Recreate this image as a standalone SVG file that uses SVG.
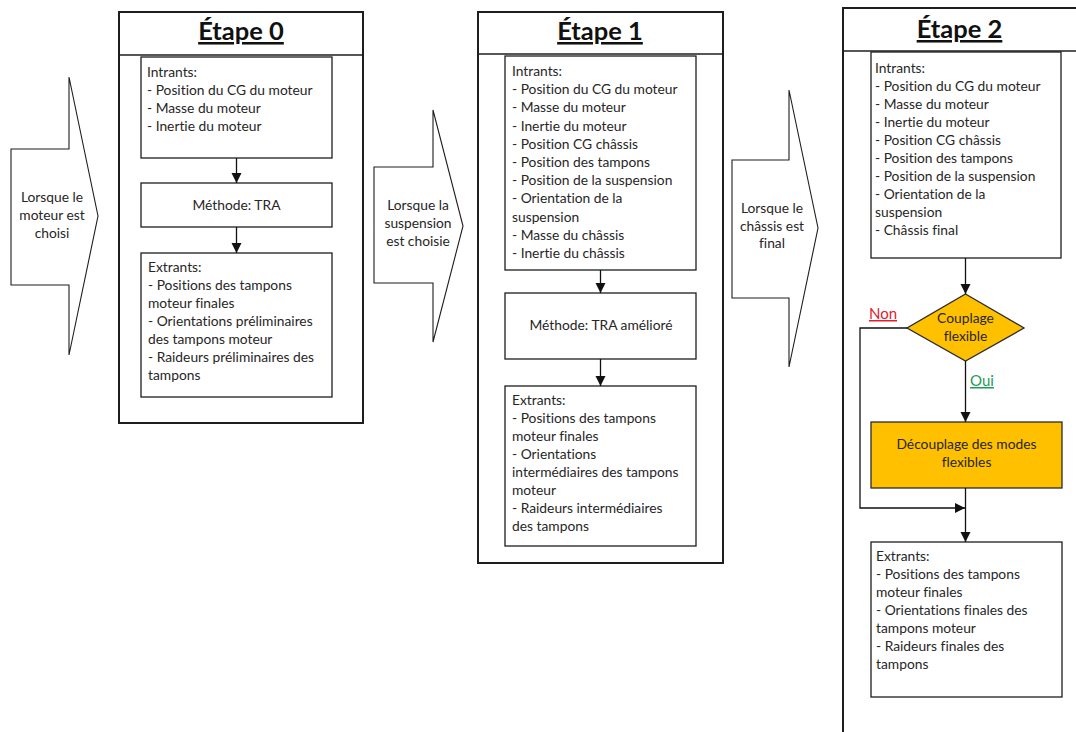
<svg xmlns="http://www.w3.org/2000/svg" width="1076" height="732" viewBox="0 0 1076 732">
  <style>
    text { font-variant-ligatures: none; }
    .frame { fill: #ffffff; stroke: #1e1e1e; stroke-width: 2; }
    .box { fill: #ffffff; stroke: #1e1e1e; stroke-width: 1.3; }
    .hot { fill: #ffc000; stroke: #2a2a2a; stroke-width: 1.3; }
    .barrow { fill: #ffffff; stroke: #1e1e1e; stroke-width: 1.1; }
    .title { font-family: Lato, "Liberation Sans", sans-serif; font-size: 25.5px; font-weight: bold; fill: #111; text-anchor: middle; text-decoration: underline; }
    .t { font-family: Lato, "Liberation Sans", sans-serif; font-size: 13.8px; fill: #262626; }
    .c { text-anchor: middle; }
    .link { fill: none; stroke: #111; stroke-width: 1.3; }
    .no { font-family: Lato, "Liberation Sans", sans-serif; font-size: 15px; fill: #e0202b; text-anchor: middle; text-decoration: underline; }
    .yes { font-family: Lato, "Liberation Sans", sans-serif; font-size: 15px; fill: #1f9a5c; text-anchor: middle; text-decoration: underline; }
  </style>
  <defs>
    <marker id="head" viewBox="0 0 10 10" refX="10" refY="5" markerWidth="10" markerHeight="11" markerUnits="userSpaceOnUse" orient="auto">
      <path d="M0,0 L10,5 L0,10 z" fill="#111"/>
    </marker>
  </defs>

  <rect width="1076" height="732" fill="#ffffff"/>

  <!-- transition arrows between stages -->
  <g id="trigger-moteur">
    <path class="barrow" d="M11,149 H69 V77 L98,216 L69,355 V285 H11 Z"/>
    <text class="t c" x="52" y="202">Lorsque le</text>
    <text class="t c" x="52" y="220">moteur est</text>
    <text class="t c" x="52" y="237.5">choisi</text>
  </g>
  <g id="trigger-suspension">
    <path class="barrow" d="M374,167 H433 V110 L463,226 L433,342 V283 H374 Z"/>
    <text class="t c" x="418" y="210">Lorsque la</text>
    <text class="t c" x="418" y="228">suspension</text>
    <text class="t c" x="418" y="246">est choisie</text>
  </g>
  <g id="trigger-chassis">
    <path class="barrow" d="M732,160 H789 V90 L818,228 L789,367 V298 H732 Z"/>
    <text class="t c" x="772" y="213">Lorsque le</text>
    <text class="t c" x="772" y="231">châssis est</text>
    <text class="t c" x="772" y="248">final</text>
  </g>

  <!-- stage 0 -->
  <g id="etape0">
    <rect class="frame" x="119" y="12" width="244" height="411"/>
    <line x1="119" y1="55" x2="363" y2="55" stroke="#1e1e1e" stroke-width="1.3"/>
    <text class="title" x="241" y="40">Étape 0</text>
  </g>
  <g id="e0-intrants">
    <rect class="box" x="141" y="57" width="191" height="101"/>
    <text class="t" x="147" y="77">Intrants:</text>
    <text class="t" x="147" y="95">- Position du CG du moteur</text>
    <text class="t" x="147" y="113">- Masse du moteur</text>
    <text class="t" x="147" y="131">- Inertie du moteur</text>
  </g>
  <g id="e0-methode">
    <rect class="box" x="141" y="183" width="191" height="44"/>
    <text class="t c" x="236.5" y="209.5">Méthode: TRA</text>
  </g>
  <g id="e0-extrants">
    <rect class="box" x="141" y="253" width="191" height="144"/>
    <text class="t" x="148" y="272">Extrants:</text>
    <text class="t" x="148" y="290">- Positions des tampons</text>
    <text class="t" x="148" y="308">moteur finales</text>
    <text class="t" x="148" y="326">- Orientations préliminaires</text>
    <text class="t" x="148" y="344">des tampons moteur</text>
    <text class="t" x="148" y="362">- Raideurs préliminaires des</text>
    <text class="t" x="148" y="380">tampons</text>
  </g>

  <!-- stage 1 -->
  <g id="etape1">
    <rect class="frame" x="478" y="12" width="245" height="551"/>
    <line x1="478" y1="54" x2="723" y2="54" stroke="#1e1e1e" stroke-width="1.3"/>
    <text class="title" x="600" y="40">Étape 1</text>
  </g>
  <g id="e1-intrants">
    <rect class="box" x="505" y="56" width="191" height="214"/>
    <text class="t" x="512" y="76">Intrants:</text>
    <text class="t" x="512" y="94.2">- Position du CG du moteur</text>
    <text class="t" x="512" y="112.4">- Masse du moteur</text>
    <text class="t" x="512" y="130.6">- Inertie du moteur</text>
    <text class="t" x="512" y="148.8">- Position CG châssis</text>
    <text class="t" x="512" y="167">- Position des tampons</text>
    <text class="t" x="512" y="185.2">- Position de la suspension</text>
    <text class="t" x="512" y="203.4">- Orientation de la</text>
    <text class="t" x="512" y="221.6">suspension</text>
    <text class="t" x="512" y="239.8">- Masse du châssis</text>
    <text class="t" x="512" y="258">- Inertie du châssis</text>
  </g>
  <g id="e1-methode">
    <rect class="box" x="505" y="293" width="191" height="66"/>
    <text class="t c" x="601" y="329.5">Méthode: TRA amélioré</text>
  </g>
  <g id="e1-extrants">
    <rect class="box" x="505" y="386" width="191" height="160"/>
    <text class="t" x="512" y="405">Extrants:</text>
    <text class="t" x="512" y="423">- Positions des tampons</text>
    <text class="t" x="512" y="441">moteur finales</text>
    <text class="t" x="512" y="459">- Orientations</text>
    <text class="t" x="512" y="477">intermédiaires des tampons</text>
    <text class="t" x="512" y="495">moteur</text>
    <text class="t" x="512" y="513">- Raideurs intermédiaires</text>
    <text class="t" x="512" y="531">des tampons</text>
  </g>

  <!-- stage 2 (frame runs past the right and bottom edges) -->
  <g id="etape2">
    <rect class="frame" x="843" y="8" width="240" height="740"/>
    <line x1="843" y1="51" x2="1076" y2="51" stroke="#1e1e1e" stroke-width="1.3"/>
    <text class="title" x="959.5" y="38">Étape 2</text>
  </g>
  <g id="e2-intrants">
    <rect class="box" x="871" y="52" width="190" height="206"/>
    <text class="t" x="875" y="73">Intrants:</text>
    <text class="t" x="875" y="91">- Position du CG du moteur</text>
    <text class="t" x="875" y="109">- Masse du moteur</text>
    <text class="t" x="875" y="127">- Inertie du moteur</text>
    <text class="t" x="875" y="145">- Position CG châssis</text>
    <text class="t" x="875" y="163">- Position des tampons</text>
    <text class="t" x="875" y="181">- Position de la suspension</text>
    <text class="t" x="875" y="199">- Orientation de la</text>
    <text class="t" x="875" y="217">suspension</text>
    <text class="t" x="875" y="235">- Châssis final</text>
  </g>
  <g id="e2-decision">
    <path class="hot" d="M965.5,294 L1024,328 L965.5,361 L907,328 Z"/>
    <text class="t c" x="965.5" y="323">Couplage</text>
    <text class="t c" x="965.5" y="341">flexible</text>
  </g>
  <g id="e2-decouplage">
    <rect class="hot" x="871" y="422" width="191" height="66"/>
    <text class="t c" x="966.5" y="449">Découplage des modes</text>
    <text class="t c" x="966.5" y="467">flexibles</text>
  </g>
  <g id="e2-extrants">
    <rect class="box" x="871" y="542" width="191" height="155"/>
    <text class="t" x="876" y="561">Extrants:</text>
    <text class="t" x="876" y="579">- Positions des tampons</text>
    <text class="t" x="876" y="597">moteur finales</text>
    <text class="t" x="876" y="615">- Orientations finales des</text>
    <text class="t" x="876" y="633">tampons moteur</text>
    <text class="t" x="876" y="651">- Raideurs finales des</text>
    <text class="t" x="876" y="669">tampons</text>
  </g>

  <!-- connectors -->
  <g id="connectors">
    <line class="link" x1="236.5" y1="158" x2="236.5" y2="183" marker-end="url(#head)"/>
    <line class="link" x1="236.5" y1="227" x2="236.5" y2="253" marker-end="url(#head)"/>
    <line class="link" x1="600.5" y1="270" x2="600.5" y2="293" marker-end="url(#head)"/>
    <line class="link" x1="600.5" y1="359" x2="600.5" y2="386" marker-end="url(#head)"/>
    <line class="link" x1="965.5" y1="258" x2="965.5" y2="294" marker-end="url(#head)"/>
    <line class="link" x1="965.5" y1="361" x2="965.5" y2="422" marker-end="url(#head)"/>
    <line class="link" x1="965.5" y1="488" x2="965.5" y2="542" marker-end="url(#head)"/>
    <polyline class="link" points="907,328 860,328 860,508 965,508" marker-end="url(#head)"/>
    <text class="no" x="883" y="319">Non</text>
    <text class="yes" x="982" y="386">Oui</text>
  </g>
</svg>
